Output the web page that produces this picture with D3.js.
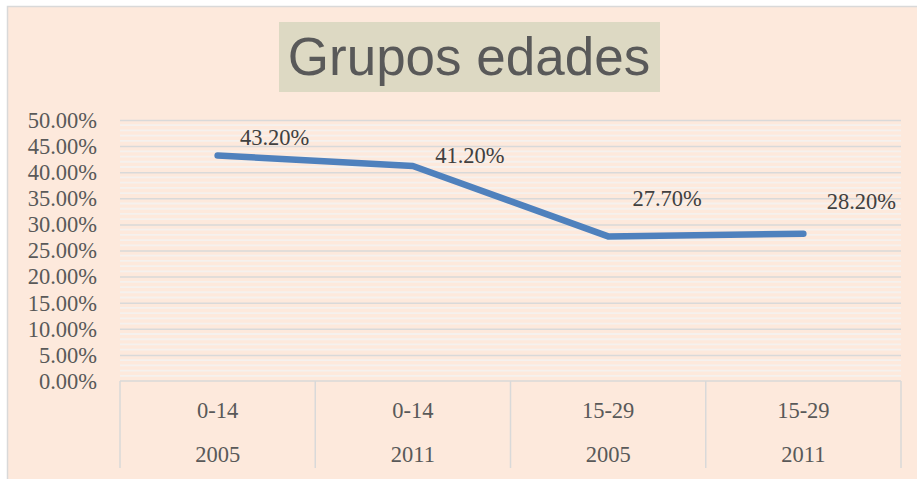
<!DOCTYPE html>
<html>
<head>
<meta charset="utf-8">
<script src="https://cdn.jsdelivr.net/npm/d3@7"></script>
<style>
  html, body { margin: 0; padding: 0; background: #fff; }
  svg { display: block; }
</style>
</head>
<body>
<svg id="chart" width="917" height="479"></svg>
<script>
const title = 'Grupos edades'
const ageGroups = ['0-14', '0-14', '15-29', '15-29']
const years = ['2005', '2011', '2005', '2011']
const shares = [43.2, 41.2, 27.7, 28.2]
const yTicks = [0, 5, 10, 15, 20, 25, 30, 35, 40, 45, 50]
// label nudges (px), picked to sit where the original chart put them
const labelDx = [57, 57, 59, 58]
const labelDy = [-18, -11, -38, -33]

const serif = "'Liberation Serif', 'Times New Roman', serif"

const svg = d3.select('#chart')
const margin = { top: 120, right: 16, bottom: 98, left: 120 }
const width = 917 - margin.left - margin.right
const height = 479 - margin.top - margin.bottom

// chart frame
svg.append('rect')
  .attr('x', 7.5).attr('y', 6.5)
  .attr('width', 930).attr('height', 490)
  .attr('fill', '#fde9dc')
  .attr('stroke', '#d9d9d9')
  .attr('stroke-width', 1.5)

// title box
const tg = svg.append('g')
tg.append('rect')
  .attr('x', 279).attr('y', 22)
  .attr('width', 381).attr('height', 70)
  .attr('fill', '#ddd9c3')
tg.append('text')
  .attr('x', 469).attr('y', 75)
  .attr('text-anchor', 'middle')
  .attr('font-family', "'Liberation Sans', Arial, sans-serif")
  .attr('font-size', 53)
  .attr('fill', '#595959')
  .text(title)

const g = svg.append('g').attr('transform', 'translate(' + margin.left + ',' + margin.top + ')')

const idx = shares.map((d, i) => i)
const x = d3.scaleBand().domain(idx).range([0, width]).padding(0)
const y = d3.scaleLinear().domain([0, 50]).range([height, 0])

// striped fill: light minor lines every 1%
g.append('g')
  .selectAll('line')
  .data(d3.range(0, 50, 1).filter(v => v % 5 !== 0))
  .join('line')
  .attr('x1', 0).attr('x2', width)
  .attr('y1', d => y(d)).attr('y2', d => y(d))
  .attr('stroke', '#f5f1ee')
  .attr('stroke-width', 1.8)

// major gridlines
g.append('g')
  .call(d3.axisLeft(y).tickValues(yTicks.slice(1)).tickSize(-width).tickFormat(''))
  .call(a => a.select('.domain').remove())
  .call(a => a.selectAll('line').attr('stroke', '#d9d9d9').attr('stroke-width', 1.5))

// y tick labels
g.append('g')
  .selectAll('text')
  .data(yTicks)
  .join('text')
  .attr('x', -23)
  .attr('y', d => y(d))
  .attr('dy', '0.35em')
  .attr('text-anchor', 'end')
  .attr('font-family', serif)
  .attr('font-size', 22.5)
  .attr('fill', '#595959')
  .text(d => d.toFixed(2) + '%')

// category axis with separators
g.append('line')
  .attr('x1', 0).attr('x2', width)
  .attr('y1', height).attr('y2', height)
  .attr('stroke', '#d9d9d9').attr('stroke-width', 1.5)

g.append('g')
  .selectAll('line')
  .data(d3.range(idx.length + 1))
  .join('line')
  .attr('x1', i => i < idx.length ? x(i) : width)
  .attr('x2', i => i < idx.length ? x(i) : width)
  .attr('y1', height).attr('y2', height + 87)
  .attr('stroke', '#d9d9d9').attr('stroke-width', 1.5)

const cat = g.append('g')
  .attr('font-family', serif)
  .attr('font-size', 22.5)
  .attr('fill', '#595959')
  .attr('text-anchor', 'middle')

cat.selectAll('.grp')
  .data(idx)
  .join('text')
  .attr('class', 'grp')
  .attr('x', i => x(i) + x.bandwidth() / 2)
  .attr('y', height + 37)
  .text(i => ageGroups[i])

cat.selectAll('.yr')
  .data(idx)
  .join('text')
  .attr('class', 'yr')
  .attr('x', i => x(i) + x.bandwidth() / 2)
  .attr('y', height + 81)
  .text(i => years[i])

// series line
const line = d3.line()
  .x(i => x(i) + x.bandwidth() / 2)
  .y(i => y(shares[i]))

g.append('path')
  .datum(idx)
  .attr('fill', 'none')
  .attr('stroke', '#4f81bd')
  .attr('stroke-width', 6.5)
  .attr('stroke-linejoin', 'round')
  .attr('stroke-linecap', 'round')
  .attr('d', line)

// data labels
g.append('g')
  .selectAll('text')
  .data(idx)
  .join('text')
  .attr('x', i => x(i) + x.bandwidth() / 2 + labelDx[i])
  .attr('y', i => y(shares[i]) + labelDy[i])
  .attr('dy', '0.35em')
  .attr('text-anchor', 'middle')
  .attr('font-family', serif)
  .attr('font-size', 22.5)
  .attr('fill', '#404040')
  .text(i => shares[i].toFixed(2) + '%')
</script>
</body>
</html>
